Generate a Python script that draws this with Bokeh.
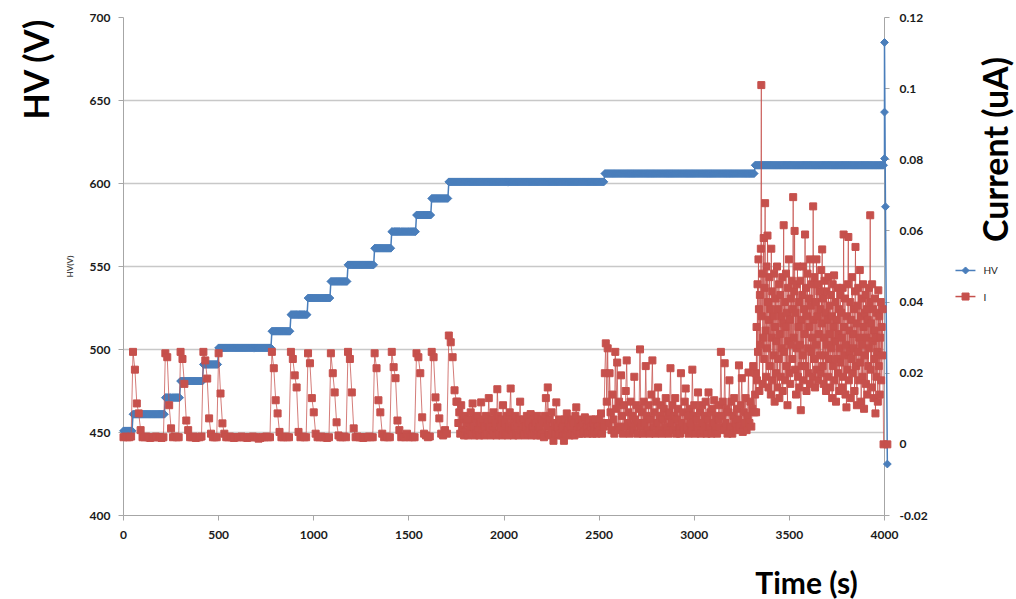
import numpy as np
from bokeh.plotting import figure
from bokeh.core.properties import value
from bokeh.models import Range1d, LinearAxis, FixedTicker, CustomJSTickFormatter
from bokeh.embed import file_html
from bokeh.resources import INLINE

# ---- data -------------------------------------------------------------
# HV set point, logged every 5 s, stored as (level, samples held at that level)
HV_STEP_S = 5
hv_levels_v = [451, 461, 471, 481, 491, 501, 511, 521, 531, 541, 551, 561,
               571, 581, 591, 601, 606, 611]
hv_counts = [10, 34, 16, 24, 16, 56, 20, 18, 24, 18, 28, 18, 26, 16, 18,
             164, 158, 136]
# HV ramp-down at the end of the run
hv_tail_time_s = [4000, 4000, 4000, 4005, 4015]
hv_tail_v = [615, 643, 685, 586, 431]

# current in nA (the axis shows uA); the logger rate changes during the run
# 0 - 1750 s, every 10 s: quiet baseline with a burst at every HV step
cur_a_start, cur_a_step = 0, 10
cur_a_na = [
    2, 2.2, 2, 2, 2.2,
    26, 21, 11.5, 8.7, 4,
    2, 2, 2.2, 2, 1.8, 2, 2, 2.2, 2, 2, 1.8, 2,
    25.6, 24.5, 11, 4.5,
    2, 2.2, 2, 2,
    26, 24, 17, 6.7, 4,
    2, 2, 2.2, 1.8, 2, 2, 2.2,
    26, 23.6, 18.5, 7.3,
    3, 2, 2, 2,
    25.6, 14.3, 5.9, 3,
    2, 2, 2.2, 2, 1.8, 2, 2, 2, 2.2, 2, 2, 1.8,
    2, 2, 2.2, 2, 2, 1.6, 1.8, 2, 2, 2.2, 2, 2,
    26, 21.4, 12.4, 8.7, 3.5,
    2, 2, 2.2, 2, 2,
    26, 24, 19.4, 16, 3.5,
    2, 2.2, 2, 2,
    25.6, 22.8, 13, 9,
    3, 2, 2, 2.2, 2, 2, 1.8, 2,
    25.6, 20, 14.6, 6.2,
    2.5, 2, 2, 2.2, 2,
    26, 24, 14.6, 4.5,
    2, 2.2, 2, 2, 1.8, 2, 2, 2.2, 2, 2,
    25.6, 21.4, 12.4, 9,
    3, 2, 2.2, 2, 2,
    26, 21.7, 18.6, 6.7, 4,
    2, 2.2, 2, 3, 2, 2.2, 2, 2,
    25.6, 24.5, 20, 7.6,
    3, 2.5, 2, 2.2,
    26, 24.5, 13.2, 10.4, 7.3,
    3, 2.5, 4, 3,
    30.6, 28.7, 24.5, 15.2, 12,
]
# 1755 - 2525 s, every 5 s
cur_b_start, cur_b_step = 1755, 5
cur_b_na = [
    12, 6, 9, 3, 11, 4, 7, 2.5, 8, 3.5,
    6, 2.5, 7, 4, 9, 3, 11.5, 5, 2.5, 7,
    3, 8, 4, 2.5, 6, 11.8, 4, 7, 2.5, 5,
    8, 3, 6, 13, 5, 2.5, 7, 4, 9, 3,
    6, 2.5, 15.5, 8, 3, 5, 7, 2.5, 11, 4,
    6, 3, 8, 2.5, 5, 9, 15.7, 4, 7, 2.5,
    5, 8, 3, 6, 2.5, 7, 12, 4, 6, 3,
    7, 2.5, 5, 8, 3, 6, 4, 8.5, 2.5, 5,
    7, 3, 6, 2.5, 8, 4, 5, 2.5, 7, 3,
    6, 2, 8, 13, 5, 16, 3, 7, 2.5, 9,
    4, 1, 6, 3, 11.8, 5, 2.5, 7, 3, 6,
    2.5, 5, 1, 7, 3, 8.7, 4, 6, 2.5, 5,
    7, 3, 6, 2.5, 8, 10.4, 4, 6, 3, 5,
    7, 3, 6, 3.5, 7.6, 4, 5, 3, 6.5, 3.5,
    5, 7, 3, 6, 4, 7, 3, 5, 3.5, 7,
    4, 8.7, 3, 6, 5,
]
# 2530 - 3315 s, every 5 s
cur_c_start, cur_c_step = 2530, 5
cur_c_na = [
    20, 28.4, 12, 27, 6, 20, 9, 4, 14, 7,
    3, 26, 10, 23, 5, 12, 4, 19.4, 8, 3,
    11, 5, 15, 23.6, 6, 9, 3, 12, 5, 8,
    4, 19, 7, 11, 3, 6, 10, 26.7, 5, 9,
    3, 12, 6, 22, 8, 4, 11, 3, 7, 14,
    23.6, 5, 9, 3, 12, 6, 16, 4, 8, 11,
    3, 7, 10, 5, 13, 4, 8, 3, 9, 21.4,
    6, 11, 4, 8, 13, 3, 7, 10, 5, 3,
    20, 6, 9, 4, 12, 15.7, 5, 8, 3, 10,
    6, 4, 21, 8, 11, 3, 7, 5, 14.6, 4,
    9, 3, 11, 6, 4, 8, 12, 3, 7, 14.6,
    5, 9, 3, 10, 6, 12.4, 4, 8, 3, 7,
    11, 5, 26, 8, 12, 4, 22.8, 6, 10, 3,
    9, 18, 5, 12, 3, 8, 13, 6, 4, 10,
    7, 22.2, 5, 11, 18.6, 3.5, 9, 6, 13, 4,
    8, 20.2, 6, 12, 5, 10, 22, 9,
]
# 3320 - 3990 s, every 2.5 s
cur_d_start, cur_d_step = 3320, 2.5
cur_d_na = [
    14, 20, 9, 33, 18, 45, 26, 52, 38, 15, 42, 28, 55, 101, 36, 48, 17, 30, 58, 24,
    44, 67.8, 32, 19, 50, 27, 58.7, 40, 16, 35, 47, 22, 38, 14, 55, 30, 43, 18, 36, 25,
    48, 12, 33, 41, 20, 29, 50, 16, 38, 24, 45, 13, 31, 42, 19, 36, 27, 47, 15, 34,
    61.6, 26, 40, 18, 33, 48, 22, 37, 11, 44, 29, 52, 20, 35, 17, 41, 28, 46, 24, 38,
    69.5, 30, 43, 60, 21, 37, 14, 45, 27, 50, 19, 33, 40, 16, 28, 46, 9.6, 35, 22, 42,
    25, 50, 18, 38, 31, 59, 22, 44, 15, 36, 48, 27, 20, 41, 33, 52, 17, 39, 26, 45,
    30, 19, 66.9, 35, 24, 47, 16, 40, 28, 52, 21, 36, 45, 18, 31, 43, 25, 38, 20, 49,
    34, 54.8, 22, 41, 17, 30, 46, 25, 37, 15, 43, 28, 35, 19, 47, 24, 39, 31, 16, 42,
    27, 36, 13, 45, 22, 33, 47.5, 18, 29, 40, 12, 35, 24, 44, 20, 31, 38, 15, 27, 42,
    23, 37, 16, 30, 44, 19, 59, 33, 25, 41, 14, 28, 10.4, 36, 21, 45, 58.3, 18, 32, 26,
    40, 13, 35, 24, 47, 20, 31, 27, 38, 15, 43, 55.5, 22, 34, 11, 39, 26, 44, 18, 30,
    49, 23, 36, 12, 41, 28, 19, 45, 33, 10, 37, 25, 42, 17, 30, 38, 14, 35, 22, 44,
    27, 40, 64.4, 21, 34, 16, 45, 29, 38, 13, 32, 24, 41, 8.7, 30, 19, 37, 26, 12, 43.3,
    22, 36, 14, 30, 40, 18, 33, 25, 38,
]
# supply switched off
cur_tail_time_s = [3995, 4015]
cur_tail_na = [0, 0]

x_ticks = [0, 500, 1000, 1500, 2000, 2500, 3000, 3500, 4000]
hv_ticks = [400, 450, 500, 550, 600, 650, 700]
current_ticks = [-0.02, 0, 0.02, 0.04, 0.06, 0.08, 0.1, 0.12]
series_names = ["HV", "I"]

# ---- series -----------------------------------------------------------
hv_v = np.repeat(hv_levels_v, hv_counts)
hv_t = np.arange(len(hv_v)) * HV_STEP_S
hv_t = np.concatenate([hv_t, hv_tail_time_s])
hv_v = np.concatenate([hv_v, hv_tail_v])

segments = [(cur_a_start, cur_a_step, cur_a_na), (cur_b_start, cur_b_step, cur_b_na),
            (cur_c_start, cur_c_step, cur_c_na), (cur_d_start, cur_d_step, cur_d_na)]
cur_t = np.concatenate([s + st * np.arange(len(v)) for s, st, v in segments]
                       + [cur_tail_time_s])
cur_ua = np.concatenate([v for _, _, v in segments] + [cur_tail_na]) / 1000.0

BLUE = "#4A7EBB"
RED = "#C6504C"
FONT = "Lato"

# frame geometry (pixels) and axis spans, used to size the key symbols
FRAME_W, FRAME_H = 761, 498
X_SPAN, Y_SPAN = 4000, 300
px_x = X_SPAN / FRAME_W   # seconds per pixel
px_y = Y_SPAN / FRAME_H   # volts per pixel

p = figure(width=1016, height=599, output_backend="svg", toolbar_location=None,
           x_range=Range1d(0, X_SPAN), y_range=Range1d(400, 400 + Y_SPAN),
           min_border_left=123, min_border_right=132,
           min_border_top=17, min_border_bottom=84)
p.extra_y_ranges = {"cur": Range1d(-0.02, 0.12)}
p.outline_line_color = None
p.background_fill_color = "white"
p.border_fill_color = "white"


def style_axis(ax):
    ax.axis_line_color = "#A6A6A6"
    ax.major_tick_line_color = "#A6A6A6"
    ax.major_tick_out = 5
    ax.major_tick_in = 0
    ax.minor_tick_line_color = None
    ax.major_label_text_font = FONT
    ax.major_label_text_font_style = "bold"
    ax.major_label_text_font_size = "12px"
    ax.major_label_text_color = "#1A1A1A"


p.xaxis.ticker = FixedTicker(ticks=x_ticks)
p.yaxis.ticker = FixedTicker(ticks=hv_ticks)
style_axis(p.xaxis[0])
style_axis(p.yaxis[0])
p.xaxis.major_label_standoff = 10
p.yaxis.major_label_standoff = 8
p.yaxis.axis_label = "HV(V)"
p.yaxis.axis_label_text_font = FONT
p.yaxis.axis_label_text_font_size = "8px"
p.yaxis.axis_label_text_font_style = "bold"
p.yaxis.axis_label_standoff = 12

right = LinearAxis(y_range_name="cur", ticker=FixedTicker(ticks=current_ticks),
                   formatter=CustomJSTickFormatter(code="return String(Number(tick.toFixed(2)));"))
style_axis(right)
right.major_label_standoff = 10
p.add_layout(right, "right")

p.xgrid.grid_line_color = None
p.ygrid.grid_line_color = "#C8C8C8"
p.ygrid.grid_line_width = 1.5

# HV trace (overlay level so edge markers are not cut by the frame)
p.line(hv_t, hv_v, line_color=BLUE, line_width=1.5, level="overlay")
p.scatter(hv_t, hv_v, marker="square", angle=np.pi / 4, size=5.5,
          fill_color=BLUE, line_color=BLUE, level="overlay")

# current trace on the secondary axis
p.line(cur_t, cur_ua, y_range_name="cur", line_color=RED,
       line_width=1, line_alpha=0.75, level="overlay")
p.scatter(cur_t, cur_ua, y_range_name="cur", marker="square", size=7,
          fill_color=RED, line_color=RED, level="overlay")

# key in the right-hand margin: short line + symbol + name for each series
key_x0, key_x1, key_xm, key_xt = 4373, 4478, 4426, 4520   # time units
key_y = [547.6, 531.9]                                      # HV units
half = 3.5  # symbol half-size in pixels
hx, hy = half * px_x, half * px_y
key_shapes = [
    ([-hx, 0, hx, 0], [0, hy, 0, -hy]),        # diamond for HV
    ([-hx, hx, hx, -hx], [-hy, -hy, hy, hy]),  # square for I
]
for name, yk, col, (sx, sy) in zip(series_names, key_y, [BLUE, RED], key_shapes):
    p.line([key_x0, key_x1], [yk, yk], line_color=col, line_width=1.5,
           level="overlay")
    p.patch([key_xm + d for d in sx], [yk + d for d in sy], fill_color=col,
            line_color=col, level="overlay")
    p.text(x=[key_xt], y=[yk], text=[name], text_font=value(FONT),
           text_font_size="10px", text_color="#1A1A1A", text_align="left",
           text_baseline="middle", level="overlay")

# large axis titles, drawn in data space outside the plotting frame
title_style = dict(text_font=value(FONT), text_font_style="bold",
                   text_color="black", text_align="center",
                   text_baseline="middle", level="overlay")
p.text(x=[-460], y=[669], text=["HV (V)"], angle=np.pi / 2,
       text_font_size="34px", **title_style)
p.text(x=[4578], y=[623], text=["Current  (uA)"], angle=np.pi / 2,
       text_font_size="34px", **title_style)
p.text(x=[3590], y=[360], text=["Time (s)"], text_font_size="30px", **title_style)

open("out.html", "w").write(file_html(p, INLINE))
